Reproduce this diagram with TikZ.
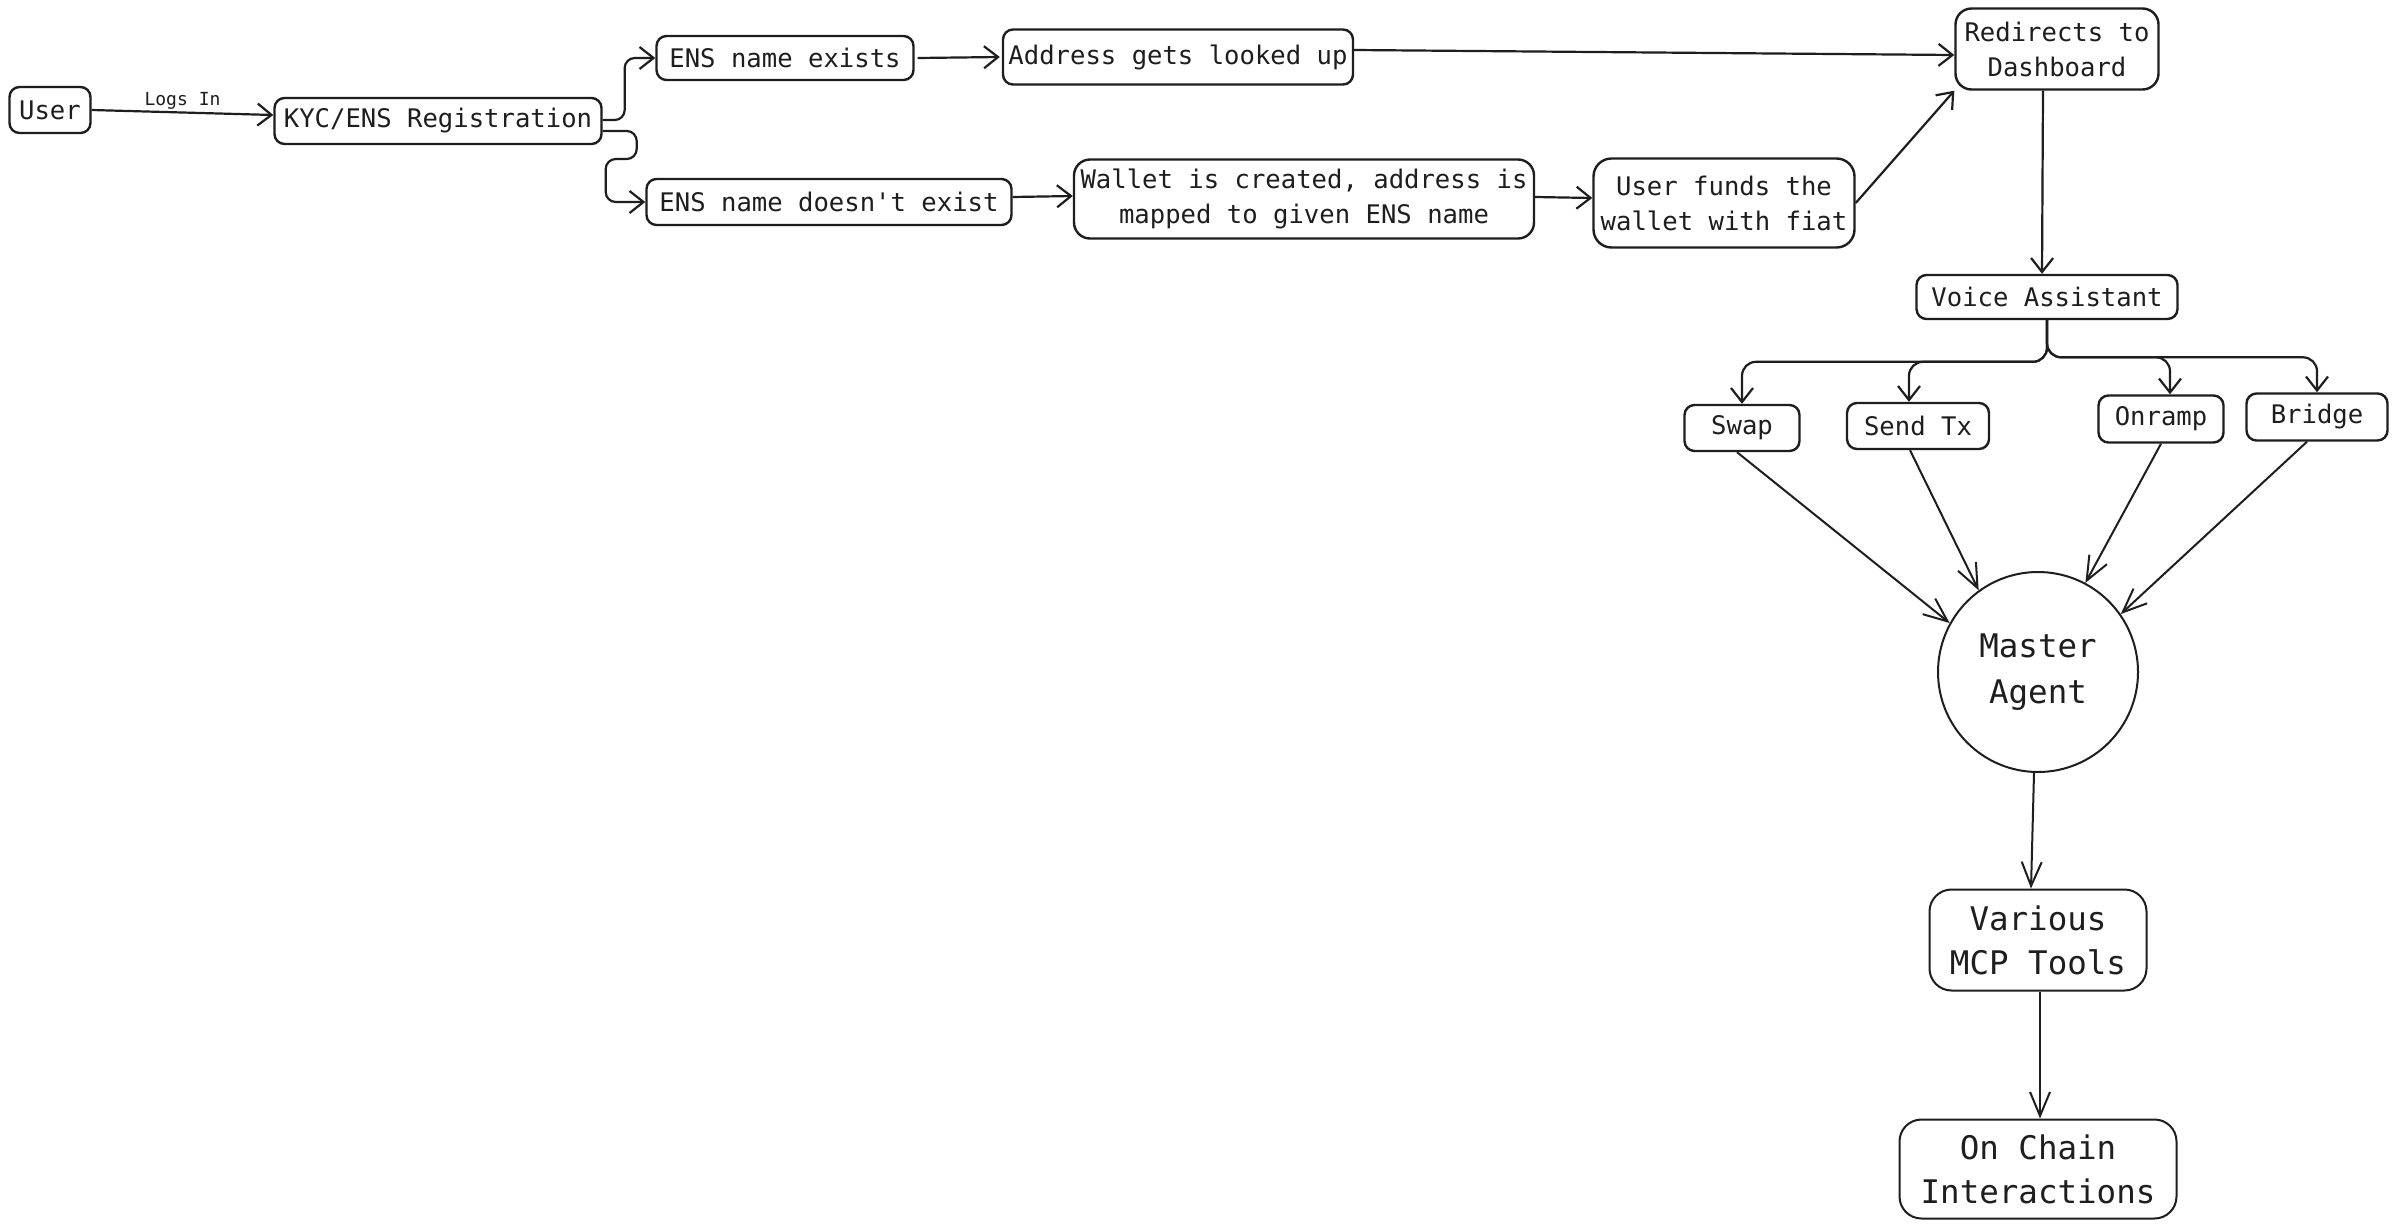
\documentclass[tikz,border=0pt]{standalone}
\usepackage{fontspec}
\setmonofont{DejaVu Sans Mono}
\usetikzlibrary{arrows.meta}
\definecolor{ink}{HTML}{1E1E1E}
\tikzset{
  box/.style={draw=ink, text=ink, rounded corners=10pt, line width=2.4pt, align=center, inner sep=0pt,
    font=\ttfamily\fontsize{25.6}{35}\selectfont},
  bigbox/.style={draw=ink, text=ink, rounded corners=22pt, line width=2pt, align=center, inner sep=0pt,
    font=\ttfamily\fontsize{32.5}{44}\selectfont},
  arr/.style={draw=ink, line width=2.2pt, -{Straight Barb[length=14pt,width=22pt,line width=2.2pt]}},
  arrb/.style={draw=ink, line width=2pt, -{Straight Barb[length=24pt,width=20pt,line width=2pt]}},
  lbl/.style={text=ink, font=\ttfamily\fontsize{18}{20}\selectfont, inner sep=2pt}
}
\begin{document}
\begin{tikzpicture}[x=1pt,y=-1pt]
\path[use as bounding box, fill=white] (0,0) rectangle (2396,1229);

\node[box, minimum width=81pt, minimum height=46pt] (user) at (50,110) {User};
\node[box, minimum width=327pt, minimum height=46pt] (kyc) at (438,121) {KYC/ENS Registration};
\node[box, minimum width=257pt, minimum height=44pt] (exists) at (785,58) {ENS name exists};
\node[box, minimum width=350pt, minimum height=55pt] (lookup) at (1178,57) {Address gets looked up};
\node[box, minimum width=203pt, minimum height=81pt, rounded corners=16pt] (dash) at (2057,49) {Redirects to\\Dashboard};
\node[box, minimum width=365pt, minimum height=46pt] (noexist) at (829,202) {ENS name doesn't exist};
\node[box, minimum width=460pt, minimum height=79pt, rounded corners=16pt] (wallet) at (1304,199) {Wallet is created, address is\\mapped to given ENS name};
\node[box, minimum width=261pt, minimum height=89pt, rounded corners=18pt] (funds) at (1724,203) {User funds the\\wallet with fiat};
\node[box, minimum width=261pt, minimum height=44pt] (voice) at (2047,297) {Voice Assistant};
\node[box, minimum width=115pt, minimum height=46pt] (swap) at (1742,428) {Swap};
\node[box, minimum width=142pt, minimum height=46pt] (sendtx) at (1918,426) {Send Tx};
\node[box, minimum width=125pt, minimum height=47pt] (onramp) at (2161,419) {Onramp};
\node[box, minimum width=141pt, minimum height=47pt] (bridge) at (2317,417) {Bridge};
\node[draw=ink, text=ink, circle, line width=2pt, minimum size=200pt, inner sep=0pt, align=center,
  font=\ttfamily\fontsize{32.5}{46}\selectfont] (master) at (2038,672) {Master\\Agent};
\node[bigbox, minimum width=217pt, minimum height=101pt] (mcp) at (2038,940) {Various\\MCP Tools};
\node[bigbox, minimum width=277pt, minimum height=99pt] (onchain) at (2038,1169) {On Chain\\Interactions};

\draw[arr] (user.east) -- node[lbl, above] {Logs In} ([yshift=6pt]kyc.west);
\draw[arr, rounded corners=10pt] ([yshift=1pt]kyc.east) -- ++(22,0) |- (exists.west);
\draw[arr, rounded corners=10pt] ([yshift=-10pt]kyc.east) -- ++(34,0) -- ++(0,28) -- ++(-31,0) |- (noexist.west);
\draw[arr] ([xshift=3pt]exists.east) -- ([xshift=-2pt]lookup.west);
\draw[arr] ([yshift=7pt]lookup.east) -- ([yshift=-6pt]dash.west);
\draw[arr] ([yshift=5pt]noexist.east) -- ([yshift=3pt]wallet.west);
\draw[arr] ([yshift=2pt]wallet.east) -- ([yshift=5pt]funds.west);
\draw[arr] (funds.east) -- (dash.south west);
\draw[arr] ([xshift=-14pt]dash.south) -- ([xshift=-5pt]voice.north);

\draw[arr, rounded corners=14pt] (voice.south) |- ([yshift=42pt]swap.north) -- (swap.north);
\draw[arr, rounded corners=14pt] (voice.south) |- ([xshift=-9pt,yshift=40pt]sendtx.north) -- ([xshift=-9pt]sendtx.north);
\draw[arr, rounded corners=14pt] (voice.south) |- ([xshift=9pt,yshift=37pt]onramp.north) -- ([xshift=9pt]onramp.north);
\draw[arr, rounded corners=14pt] (voice.south) |- ([yshift=35pt]bridge.north) -- (bridge.north);

\draw[arrb] ([xshift=-5pt]swap.south) -- (master.151);
\draw[arrb] ([xshift=-8pt]sendtx.south) -- (master.126);
\draw[arrb] (onramp.south) -- (master.62);
\draw[arrb] ([xshift=-10pt]bridge.south) -- (master.35);
\draw[arrb] ([xshift=-4pt]master.south) -- ([xshift=-7pt]mcp.north);
\draw[arrb] ([xshift=2pt]mcp.south) -- ([xshift=2pt]onchain.north);
\end{tikzpicture}
\end{document}
